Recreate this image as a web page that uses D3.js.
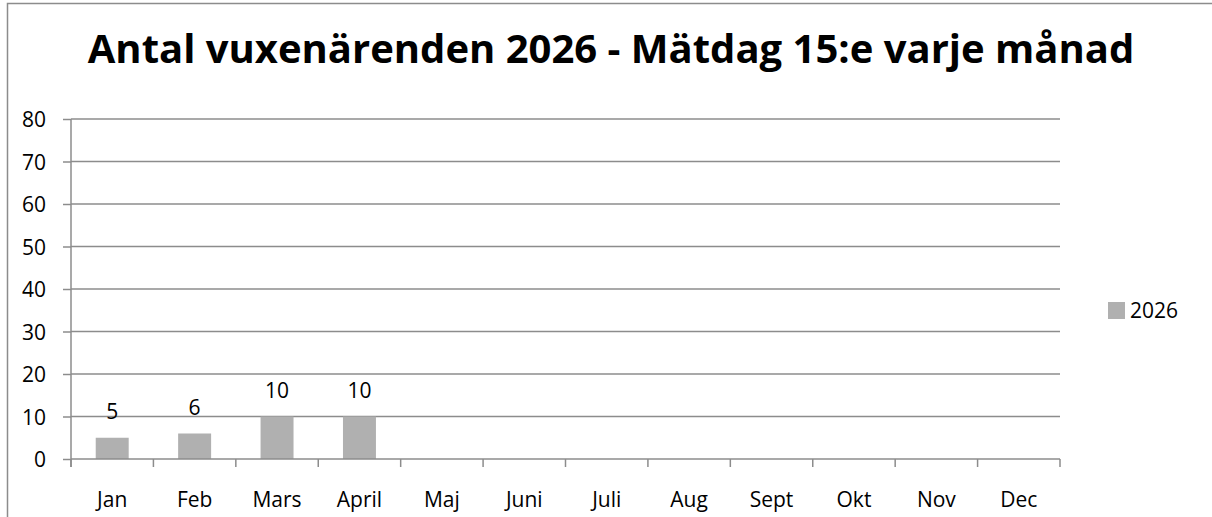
<!DOCTYPE html>
<html>
<head>
<meta charset="utf-8">
<script src="https://cdn.jsdelivr.net/npm/d3@7"></script>
<style>
  body { margin: 0; background: #fff; }
  text { font-family: "Open Sans", "Noto Sans", sans-serif; fill: #000; }
</style>
</head>
<body>
<div id="chart"></div>
<script>
var months = ["Jan", "Feb", "Mars", "April", "Maj", "Juni", "Juli", "Aug", "Sept", "Okt", "Nov", "Dec"];
var values2026 = [5, 6, 10, 10, null, null, null, null, null, null, null, null];
var yTicks = [0, 10, 20, 30, 40, 50, 60, 70, 80];
var seriesName = "2026";
var chartTitle = "Antal vuxenärenden 2026 - Mätdag 15:e varje månad";

var width = 1212,
    height = 517,
    margin = {left: 71, right: 152, top: 119, bottom: 58},
    fontSize = "21px",
    gray = "#8c8c8c";

var svg = d3.select("#chart")
    .append("svg")
    .attr("width", width)
    .attr("height", height);

// outer chart border
svg.append("rect")
    .attr("x", 7.5)
    .attr("y", 3.5)
    .attr("width", width + 10)
    .attr("height", height + 10)
    .style("fill", "none")
    .style("stroke", gray)
    .style("stroke-width", 1.5);

svg.append("text")
    .attr("x", 611)
    .attr("y", 63)
    .attr("text-anchor", "middle")
    .style("font-weight", "bold")
    .style("font-size", "40px")
    .text(chartTitle);

var x = d3.scaleBand()
    .domain(months)
    .range([margin.left, width - margin.right])
    .paddingInner(0.6)
    .paddingOuter(0.3);

var y = d3.scaleLinear()
    .domain([0, 80])
    .range([height - margin.bottom, margin.top]);

// gridlines
svg.append("g")
    .selectAll("line")
    .data(yTicks.filter(function (d) { return d > 0; }))
    .enter().append("line")
    .attr("x1", margin.left)
    .attr("x2", width - margin.right)
    .attr("y1", function (d) { return y(d); })
    .attr("y2", function (d) { return y(d); })
    .style("stroke", gray)
    .style("stroke-width", 1.5);

// bars
var data = months.map(function (m, i) { return {month: m, value: values2026[i]}; })
    .filter(function (d) { return d.value != null; });

svg.append("g")
    .selectAll("rect")
    .data(data)
    .enter().append("rect")
    .attr("x", function (d) { return x(d.month); })
    .attr("width", x.bandwidth())
    .attr("y", function (d) { return y(d.value); })
    .attr("height", function (d) { return y(0) - y(d.value); })
    .style("fill", "#b0b0b0");

svg.append("g")
    .selectAll("text")
    .data(data)
    .enter().append("text")
    .attr("x", function (d) { return x(d.month) + x.bandwidth() / 2; })
    .attr("y", function (d) { return y(d.value) - 19; })
    .attr("text-anchor", "middle")
    .style("font-size", fontSize)
    .text(function (d) { return d.value; });

// y axis
var yAxis = svg.append("g")
    .attr("transform", "translate(" + margin.left + ",0)")
    .call(d3.axisLeft(y).tickValues(yTicks).tickSize(8).tickPadding(17).tickSizeOuter(0));
yAxis.select(".domain").attr("d", "M0," + margin.top + "V" + (y(0) + 8));
yAxis.selectAll("text").style("font-size", fontSize).attr("dy", "0.36em");
yAxis.selectAll("line, path").style("stroke", gray).style("stroke-width", 1.5);

// x axis, ticks at category boundaries
var bounds = d3.range(months.length + 1).map(function (i) {
    return margin.left + i * ((width - margin.right - margin.left) / months.length);
});
var xg = svg.append("g");
xg.append("line")
    .attr("x1", margin.left)
    .attr("x2", width - margin.right)
    .attr("y1", y(0))
    .attr("y2", y(0));
xg.selectAll(".tick")
    .data(bounds)
    .enter().append("line")
    .attr("class", "tick")
    .attr("x1", function (d) { return d; })
    .attr("x2", function (d) { return d; })
    .attr("y1", y(0))
    .attr("y2", y(0) + 8);
xg.selectAll("line").style("stroke", gray).style("stroke-width", 1.5);
xg.selectAll("text")
    .data(months)
    .enter().append("text")
    .attr("x", function (d) { return x(d) + x.bandwidth() / 2; })
    .attr("y", 507)
    .attr("text-anchor", "middle")
    .style("font-size", fontSize)
    .text(function (d) { return d; });

// legend
var legend = svg.append("g").attr("transform", "translate(1108,302)");
legend.append("rect")
    .attr("width", 17)
    .attr("height", 17)
    .style("fill", "#b0b0b0");
legend.append("text")
    .attr("x", 22)
    .attr("y", 16)
    .style("font-size", fontSize)
    .text(seriesName);
</script>
</body>
</html>
